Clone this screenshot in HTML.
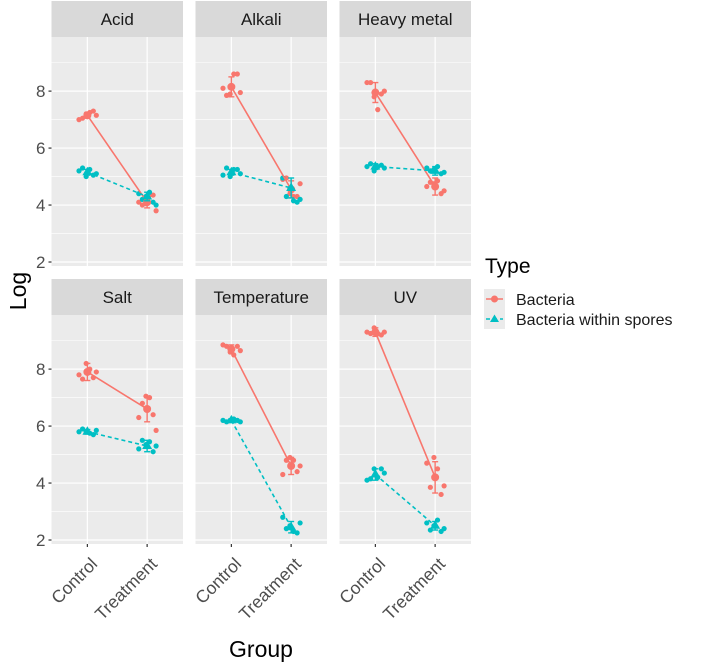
<!DOCTYPE html>
<html><head><meta charset="utf-8"><style>
body{margin:0;background:#fff;}
svg text{font-family:"Liberation Sans",Arial,sans-serif;}
</style></head><body>
<svg id="chart" width="709" height="663" viewBox="0 0 709 663" xmlns="http://www.w3.org/2000/svg">
<g id="panels"></g>
<text x="0" y="0" transform="translate(26,291) rotate(-90)" text-anchor="middle" font-size="23" fill="#000">Log</text>
<text x="261" y="657" text-anchor="middle" font-size="23" fill="#000">Group</text>
<g>
<text x="485" y="273" font-size="21" fill="#000">Type</text>
<rect x="484" y="289" width="21" height="20" fill="#ebebeb"/>
<rect x="484" y="309" width="21" height="20" fill="#ebebeb"/>
<line x1="486" y1="299" x2="503" y2="299" stroke="#F8766D" stroke-width="1.5"/>
<circle cx="494.5" cy="299" r="3.5" fill="#F8766D"/>
<line x1="486" y1="319" x2="503" y2="319" stroke="#00BFC4" stroke-width="1.5" stroke-dasharray="4,3"/>
<polygon points="494.5,314.5 499,322 490,322" fill="#00BFC4"/>
<text x="516" y="305" font-size="16" fill="#1a1a1a">Bacteria</text>
<text x="516" y="325" font-size="16" fill="#1a1a1a">Bacteria within spores</text>
</g>
</svg>
<script>
const panelNames=["Acid","Alkali","Heavy metal","Salt","Temperature","UV"];
const groups=["Control","Treatment"];
const yTicks=[2,4,6,8];
const bacMean=[[7.15,4.1],[8.15,4.55],[7.95,4.65],[7.9,6.6],[8.7,4.6],[9.3,4.2]];
const bacErr=[[0.1,0.2],[0.35,0.3],[0.35,0.3],[0.3,0.45],[0.15,0.3],[0.15,0.55]];
const spoMean=[[5.15,4.3],[5.15,4.6],[5.35,5.2],[5.8,5.3],[6.2,2.45],[4.3,2.5]];
const spoErr=[[0.1,0.15],[0.1,0.35],[0.1,0.15],[0.08,0.2],[0.05,0.2],[0.2,0.15]];
const bacPtsC=[[7.0,7.05,7.2,7.25,7.3,7.15],[8.1,7.85,7.9,8.6,8.6,7.95],[8.3,8.3,7.8,7.35,7.9,8.0],[7.8,7.65,8.2,8.0,7.7,7.9],[8.85,8.8,8.6,8.5,8.8,8.65],[9.3,9.25,9.45,9.25,9.2,9.3]];
const bacPtsT=[[4.05,4.35,4.35,3.8,4.1,4.0],[4.4,4.3,4.3,4.75,4.9,4.95],[4.75,4.85,4.4,4.5,4.65,4.8],[7.05,7.0,6.4,5.85,6.3,6.8],[4.9,4.8,4.4,4.6,4.3,4.8],[4.9,4.5,3.6,3.9,4.7,3.85]];
const spoPtsC=[[5.3,5.0,5.25,5.05,5.1,5.2],[5.3,5.0,5.25,5.25,5.1,5.05],[5.45,5.2,5.35,5.4,5.3,5.35],[5.9,5.8,5.75,5.7,5.85,5.8],[6.15,6.2,6.25,6.2,6.15,6.2],[4.15,4.5,4.2,4.5,4.35,4.1]];
const spoPtsT=[[4.45,4.1,4.0,4.4,4.2,4.3],[4.15,4.1,4.2,4.95,4.3,4.6],[5.35,5.1,5.15,5.3,5.2,5.25],[5.45,5.1,5.3,5.2,5.5,5.35],[2.3,2.25,2.6,2.8,2.4,2.5],[2.7,2.3,2.4,2.6,2.35,2.5]];
const jit=[-0.14,-0.08,-0.02,0.04,0.1,0.15];

const NS="http://www.w3.org/2000/svg";
const root=document.getElementById('panels');
const colX=[51.5,195.5,339.5], PW=131.5;
const rowY=[37,315], PH=229;
const YMIN=1.86, YMAX=9.9;
function mk(tag,attrs,parent){const e=document.createElementNS(NS,tag);for(const k in attrs)e.setAttribute(k,attrs[k]);(parent||root).appendChild(e);return e;}
panelNames.forEach((name,i)=>{
  const c=i%3,r=Math.floor(i/3);
  const x0=colX[c],y0=rowY[r];
  const sx=v=>x0+PW*(v+0.6)/2.2;
  const sy=v=>y0+PH*(YMAX-v)/(YMAX-YMIN);
  const g=mk('g',{});
  
  
  const strip=mk('rect',{x:x0,y:y0-36,width:PW,height:36,fill:'#d9d9d9'},g);
  
  
  const st=mk('text',{x:x0+PW/2,y:y0-12,'text-anchor':'middle','font-size':'17',fill:'#1a1a1a'},g);st.textContent=name;
  
  
  mk('rect',{x:x0,y:y0,width:PW,height:PH,fill:'#ebebeb'},g);
  [3,5,7,9].forEach(v=>mk('line',{x1:x0,x2:x0+PW,y1:sy(v),y2:sy(v),stroke:'#fff','stroke-width':0.6},g));
  yTicks.forEach(v=>mk('line',{x1:x0,x2:x0+PW,y1:sy(v),y2:sy(v),stroke:'#fff','stroke-width':1.2},g));
  [0,1].forEach(k=>mk('line',{x1:sx(k),x2:sx(k),y1:y0,y2:y0+PH,stroke:'#fff','stroke-width':1.2},g));
  if(c===0){yTicks.forEach(v=>{
    mk('line',{x1:x0-3,x2:x0,y1:sy(v),y2:sy(v),stroke:'#333','stroke-width':1.2},g);
    const t=mk('text',{x:x0-6,y:sy(v)+6,'text-anchor':'end','font-size':'17',fill:'#4d4d4d'},g);t.textContent=v;
    
    
  });}
  if(r===1){groups.forEach((gname,k)=>{
    mk('line',{x1:sx(k),x2:sx(k),y1:y0+PH,y2:y0+PH+3,stroke:'#333','stroke-width':1.2},g);
    const t=mk('text',{x:0,y:0,'text-anchor':'end','font-size':'17.5',fill:'#4d4d4d',transform:`translate(${sx(k)+11},${y0+PH+21}) rotate(-45)`},g);t.textContent=gname;
    
    
  });}
  const drawPts=(arr,k,col,s)=>arr[i].forEach((v,j)=>{
    const p=mk('circle',{cx:sx(k+jit[(j+s)%6]),cy:sy(v),r:2.6,fill:col},g);
    
    
  });
  drawPts(bacPtsC,0,'#F8766D',0);drawPts(bacPtsT,1,'#F8766D',2);
  drawPts(spoPtsC,0,'#00BFC4',1);drawPts(spoPtsT,1,'#00BFC4',3);
  const series=[[bacMean,bacErr,'#F8766D','none','circle'],[spoMean,spoErr,'#00BFC4','4,3','tri']];
  series.forEach(([m,e,col,dash,shape])=>{
    const ln=mk('line',{x1:sx(0),y1:sy(m[i][0]),x2:sx(1),y2:sy(m[i][1]),stroke:col,'stroke-width':1.6,'stroke-dasharray':dash},g);
    
    
    [0,1].forEach(k=>{
      const v=m[i][k],er=e[i][k],X=sx(k);
      mk('line',{x1:X,x2:X,y1:sy(v-er),y2:sy(v+er),stroke:col,'stroke-width':1.4},g);
      mk('line',{x1:X-3,x2:X+3,y1:sy(v-er),y2:sy(v-er),stroke:col,'stroke-width':1.4},g);
      mk('line',{x1:X-3,x2:X+3,y1:sy(v+er),y2:sy(v+er),stroke:col,'stroke-width':1.4},g);
      let mk2;
      if(shape==='circle') mk2=mk('circle',{cx:X,cy:sy(v),r:4,fill:col},g);
      else {const Y=sy(v);mk2=mk('polygon',{points:`${X},${Y-5.5} ${X+5},${Y+3} ${X-5},${Y+3}`,fill:col},g);}
      
      
    });
  });
});
</script>
</body></html>
